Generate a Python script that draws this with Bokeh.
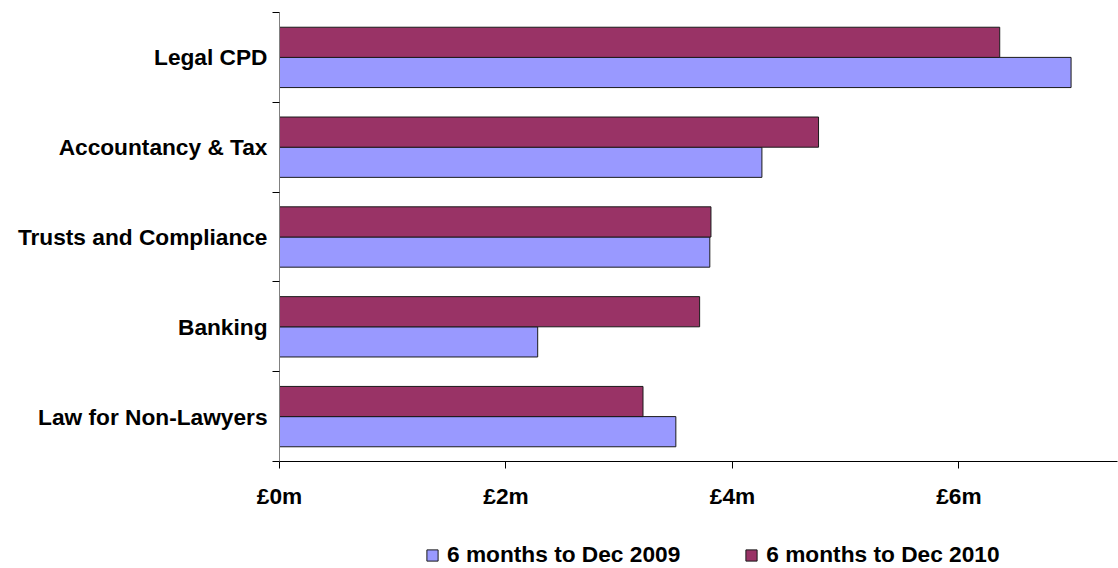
from bokeh.plotting import figure
from bokeh.models import (FixedTicker, PrintfTickFormatter, Legend, LegendItem,
                          Range1d, CustomJSTickFormatter)
from bokeh.embed import file_html
from bokeh.resources import INLINE

# ---- data (bottom to top) ----
categories = ["Law for Non-Lawyers", "Banking", "Trusts and Compliance",
              "Accountancy & Tax", "Legal CPD"]
dec_2009 = [3.50, 2.28, 3.80, 4.26, 6.99]   # £m
dec_2010 = [3.21, 3.71, 3.81, 4.76, 6.36]   # £m
series_names = ["6 months to Dec 2009", "6 months to Dec 2010"]
x_ticks = [0, 2, 4, 6]

FONT = "Liberation Sans"
FSIZE = "22.7px"
C09 = "#9999FF"
C10 = "#993366"
BAR_H = 0.336
X_MAX = 7.4

# layout (pixels) of the plotting area inside the canvas
W, H = 1118, 568
LEFT, RIGHT, TOP, BOTTOM = 279, 1117, 12, 461
n = len(categories)
centers = [i + 0.5 for i in range(n)]
boundaries = list(range(n + 1))

# the frame covers the whole canvas; axes are pinned at the data origin
px_x = (RIGHT - LEFT) / X_MAX
px_y = (BOTTOM - TOP) / n
x_range = Range1d(-LEFT / px_x, X_MAX + (W - RIGHT) / px_x)
y_range = Range1d(-(H - BOTTOM) / px_y, n + TOP / px_y)

p = figure(width=W, height=H, output_backend="svg", toolbar_location=None,
           x_range=x_range, y_range=y_range,
           min_border_left=0, min_border_right=0,
           min_border_top=0, min_border_bottom=0)

r09 = p.hbar(y=[c - BAR_H / 2 for c in centers], left=0, right=dec_2009,
             height=BAR_H, fill_color=C09, line_color="#1a1a1a", line_width=1)
r10 = p.hbar(y=[c + BAR_H / 2 for c in centers], left=0, right=dec_2010,
             height=BAR_H, fill_color=C10, line_color="#1a1a1a", line_width=1)

p.xgrid.visible = False
p.ygrid.visible = False
p.outline_line_color = None
p.background_fill_color = "white"
p.border_fill_color = "white"

# x axis (values)
xa = p.xaxis[0]
xa.fixed_location = 0
xa.bounds = (0, X_MAX)
xa.ticker = FixedTicker(ticks=x_ticks, minor_ticks=[])
xa.formatter = PrintfTickFormatter(format="£%dm")
xa.axis_line_color = "black"
xa.major_tick_line_color = "black"
xa.major_tick_out = 7
xa.major_tick_in = 0
xa.minor_tick_line_color = None
xa.major_label_standoff = 14
xa.major_label_text_font = FONT
xa.major_label_text_font_style = "bold"
xa.major_label_text_font_size = FSIZE
xa.major_label_text_color = "black"

# y axis (categories): labels at centres, ticks at boundaries
ya = p.yaxis[0]
ya.fixed_location = 0
ya.bounds = (0, n)
ya.ticker = FixedTicker(ticks=centers, minor_ticks=boundaries)
ya.formatter = CustomJSTickFormatter(args=dict(cats=categories),
                                     code="return cats[Math.floor(tick)];")
ya.axis_line_color = "#808080"
ya.major_tick_line_color = None
ya.major_tick_out = 0
ya.major_tick_in = 0
ya.minor_tick_line_color = "black"
ya.minor_tick_out = 7
ya.minor_tick_in = 0
ya.major_label_standoff = 5
ya.major_label_text_font = FONT
ya.major_label_text_font_style = "bold"
ya.major_label_text_font_size = FSIZE
ya.major_label_text_color = "black"

legend = Legend(items=[LegendItem(label=series_names[0], renderers=[r09]),
                       LegendItem(label=series_names[1], renderers=[r10])],
                location=(425, 0), orientation="horizontal",
                glyph_width=14, glyph_height=14, label_standoff=8, spacing=64,
                padding=0, margin=0, border_line_color=None,
                background_fill_alpha=0,
                label_text_font=FONT, label_text_font_style="bold",
                label_text_font_size=FSIZE, label_text_color="black")
p.add_layout(legend, "center")

open("out.html", "w").write(file_html(p, INLINE))
